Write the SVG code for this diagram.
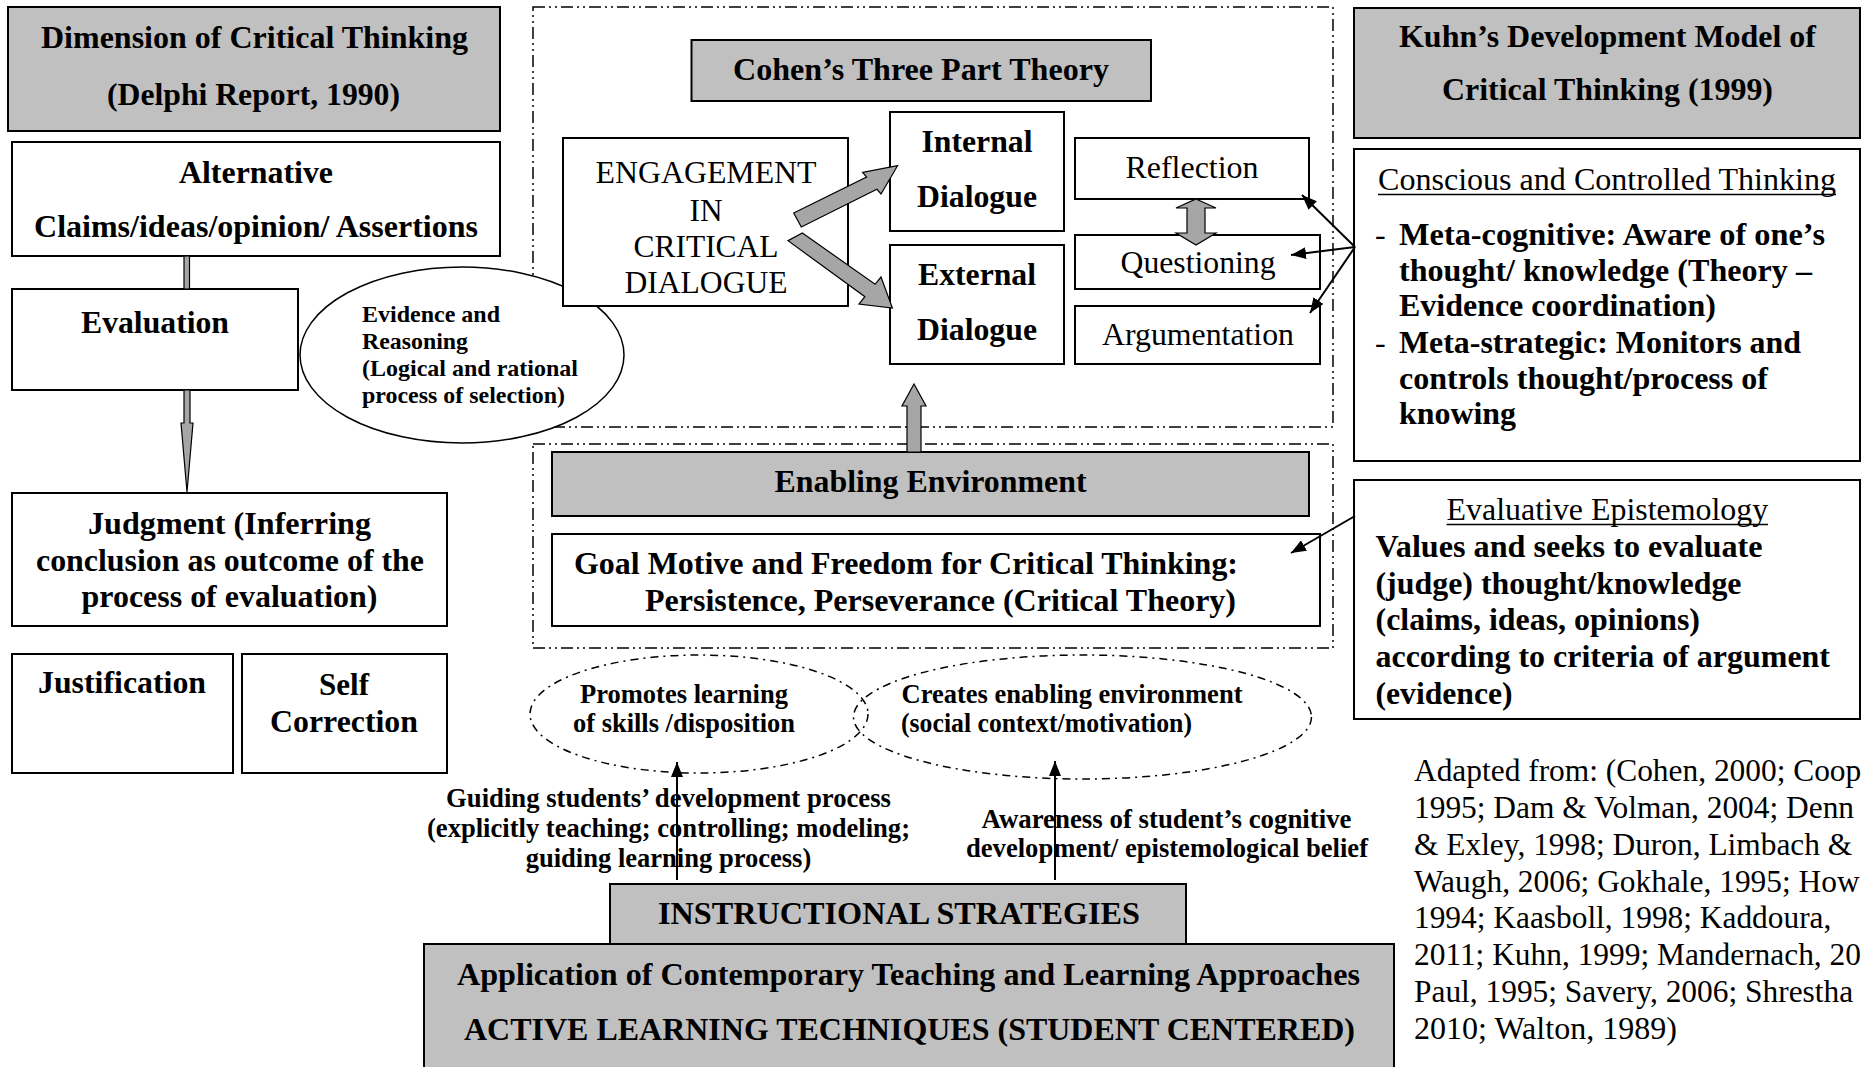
<svg xmlns="http://www.w3.org/2000/svg" width="1864" height="1067" viewBox="0 0 1864 1067" font-family="Liberation Serif">
<style>
text{font-family:"Liberation Serif","Times New Roman",serif;fill:#000}
.b{font-weight:bold;font-size:32px}
.r{font-weight:normal;font-size:32px}
.s{font-weight:bold;font-size:26.5px}
.e{font-weight:bold;font-size:24px}
.n{font-weight:normal;font-size:31.4px}
.m{text-anchor:middle}
.box{fill:#fff;stroke:#000;stroke-width:2}
.hd{fill:#c0c0c0;stroke:#000;stroke-width:2}
.dd{fill:none;stroke:#000;stroke-width:1.5;stroke-dasharray:12 4 2 4 2 4}
.de{fill:none;stroke:#000;stroke-width:1.5;stroke-dasharray:8 5 2 5}
.blk{fill:#a6a6a6;stroke:#000;stroke-width:1.2;stroke-linejoin:miter}
.ln{fill:none;stroke:#000;stroke-width:2;marker-end:url(#ah)}
.ul{stroke:#000;stroke-width:1.5}
</style>
<defs>
<marker id="ah" markerUnits="userSpaceOnUse" viewBox="0 0 16 12" markerWidth="16" markerHeight="12" refX="15" refY="6" orient="auto"><path d="M0,0 L15,6 L0,12 z" fill="#000"/></marker>
</defs>
<rect width="1864" height="1067" fill="#fff"/>

<g id="cohen-container"><rect class="dd" x="533" y="7" width="800" height="420"/></g>
<g id="enabling-container"><rect class="dd" x="533" y="444" width="800" height="204"/></g>

<g id="dimension">
<rect class="hd" x="8" y="7" width="492" height="124"/>
<text class="b m" x="254.5" y="48" textLength="427" lengthAdjust="spacingAndGlyphs">Dimension of Critical Thinking</text>
<text class="b m" x="253.5" y="105" textLength="293" lengthAdjust="spacingAndGlyphs">(Delphi Report, 1990)</text>
</g>
<g id="alternative">
<rect class="box" x="12" y="142" width="488" height="114"/>
<text class="b m" x="256" y="183" textLength="154" lengthAdjust="spacingAndGlyphs">Alternative</text>
<text class="b m" x="256" y="237" textLength="444" lengthAdjust="spacingAndGlyphs">Claims/ideas/opinion/ Assertions</text>
</g>
<g id="evaluation">
<rect class="box" x="12" y="289" width="286" height="101"/>
<text class="b m" x="155" y="333" textLength="148" lengthAdjust="spacingAndGlyphs">Evaluation</text>
</g>
<g id="evidence">
<ellipse cx="462" cy="355" rx="162" ry="88" fill="#fff" stroke="#000" stroke-width="1.5"/>
<text class="e" x="362" y="322" textLength="138" lengthAdjust="spacingAndGlyphs">Evidence and</text>
<text class="e" x="362" y="349" textLength="106" lengthAdjust="spacingAndGlyphs">Reasoning</text>
<text class="e" x="362" y="376" textLength="216" lengthAdjust="spacingAndGlyphs">(Logical and rational</text>
<text class="e" x="362" y="403" textLength="203" lengthAdjust="spacingAndGlyphs">process of selection)</text>
</g>
<g id="judgment">
<rect class="box" x="12" y="493" width="435" height="133"/>
<text class="b m" x="229.5" y="534" textLength="283" lengthAdjust="spacingAndGlyphs">Judgment (Inferring</text>
<text class="b m" x="230" y="571" textLength="388" lengthAdjust="spacingAndGlyphs">conclusion as outcome of the</text>
<text class="b m" x="229.5" y="607" textLength="296" lengthAdjust="spacingAndGlyphs">process of evaluation)</text>
</g>
<g id="justification">
<rect class="box" x="12" y="654" width="221" height="119"/>
<text class="b m" x="122" y="693" textLength="168" lengthAdjust="spacingAndGlyphs">Justification</text>
</g>
<g id="self-correction">
<rect class="box" x="242" y="654" width="205" height="119"/>
<text class="b m" x="344" y="695" textLength="50" lengthAdjust="spacingAndGlyphs">Self</text>
<text class="b m" x="344" y="732" textLength="148" lengthAdjust="spacingAndGlyphs">Correction</text>
</g>

<g id="cohen-title">
<rect class="hd" x="691.5" y="40" width="459.5" height="61"/>
<text class="b m" x="921" y="80" textLength="376" lengthAdjust="spacingAndGlyphs">Cohen’s Three Part Theory</text>
</g>
<g id="engagement">
<rect class="box" x="563" y="138" width="285" height="168"/>
<text class="r m" x="706" y="183" textLength="221" lengthAdjust="spacingAndGlyphs">ENGAGEMENT</text>
<text class="r m" x="706" y="221" textLength="33" lengthAdjust="spacingAndGlyphs">IN</text>
<text class="r m" x="706" y="257" textLength="145" lengthAdjust="spacingAndGlyphs">CRITICAL</text>
<text class="r m" x="706" y="293" textLength="163" lengthAdjust="spacingAndGlyphs">DIALOGUE</text>
</g>
<g id="internal">
<rect class="box" x="890" y="112" width="174" height="119"/>
<text class="b m" x="977" y="152" textLength="111" lengthAdjust="spacingAndGlyphs">Internal</text>
<text class="b m" x="977" y="207" textLength="120" lengthAdjust="spacingAndGlyphs">Dialogue</text>
</g>
<g id="external">
<rect class="box" x="890" y="245" width="174" height="119"/>
<text class="b m" x="977" y="285" textLength="118" lengthAdjust="spacingAndGlyphs">External</text>
<text class="b m" x="977" y="340" textLength="120" lengthAdjust="spacingAndGlyphs">Dialogue</text>
</g>
<g id="reflection">
<rect class="box" x="1075" y="138" width="234" height="61"/>
<text class="r m" x="1192" y="178" textLength="133" lengthAdjust="spacingAndGlyphs">Reflection</text>
</g>
<g id="questioning">
<rect class="box" x="1075" y="235" width="245" height="54"/>
<text class="r m" x="1198" y="273" textLength="155" lengthAdjust="spacingAndGlyphs">Questioning</text>
</g>
<g id="argumentation">
<rect class="box" x="1075" y="306" width="245" height="58"/>
<text class="r m" x="1198" y="345" textLength="192" lengthAdjust="spacingAndGlyphs">Argumentation</text>
</g>

<g id="kuhn-title">
<rect class="hd" x="1354" y="8" width="506" height="130"/>
<text class="b m" x="1607.5" y="47" textLength="417" lengthAdjust="spacingAndGlyphs">Kuhn’s Development Model of</text>
<text class="b m" x="1607.5" y="100" textLength="331" lengthAdjust="spacingAndGlyphs">Critical Thinking (1999)</text>
</g>
<g id="conscious">
<rect class="box" x="1354" y="149" width="506" height="312"/>
<text class="r" x="1378" y="190" textLength="458" lengthAdjust="spacingAndGlyphs">Conscious and Controlled Thinking</text>
<line class="ul" x1="1378" y1="194.5" x2="1836" y2="194.5"/>
<text class="r" x="1375" y="245">-</text>
<text class="b" x="1399" y="245" textLength="426" lengthAdjust="spacingAndGlyphs">Meta-cognitive: Aware of one’s</text>
<text class="b" x="1399" y="281" textLength="413" lengthAdjust="spacingAndGlyphs">thought/ knowledge (Theory –</text>
<text class="b" x="1399" y="316" textLength="317" lengthAdjust="spacingAndGlyphs">Evidence coordination)</text>
<text class="r" x="1375" y="353">-</text>
<text class="b" x="1399" y="353" textLength="402" lengthAdjust="spacingAndGlyphs">Meta-strategic: Monitors and</text>
<text class="b" x="1399" y="389" textLength="369" lengthAdjust="spacingAndGlyphs">controls thought/process of</text>
<text class="b" x="1399" y="424" textLength="117" lengthAdjust="spacingAndGlyphs">knowing</text>
</g>
<g id="evaluative">
<rect class="box" x="1354" y="480" width="506" height="239"/>
<text class="r" x="1446.6" y="520" textLength="321.6" lengthAdjust="spacingAndGlyphs">Evaluative Epistemology</text>
<line class="ul" x1="1446.6" y1="524.5" x2="1768" y2="524.5"/>
<text class="b" x="1375.5" y="557" textLength="387" lengthAdjust="spacingAndGlyphs">Values and seeks to evaluate</text>
<text class="b" x="1375.5" y="593.5" textLength="366" lengthAdjust="spacingAndGlyphs">(judge) thought/knowledge</text>
<text class="b" x="1375.5" y="630" textLength="324.5" lengthAdjust="spacingAndGlyphs">(claims, ideas, opinions)</text>
<text class="b" x="1375.5" y="667" textLength="454.5" lengthAdjust="spacingAndGlyphs">according to criteria of argument</text>
<text class="b" x="1375.5" y="704" textLength="137" lengthAdjust="spacingAndGlyphs">(evidence)</text>
</g>

<g id="enabling-environment">
<rect class="hd" x="552" y="452" width="757" height="64"/>
<text class="b m" x="930.5" y="492" textLength="312" lengthAdjust="spacingAndGlyphs">Enabling Environment</text>
</g>
<g id="goal-motive">
<rect class="box" x="552" y="534" width="768" height="92"/>
<text class="b" x="574" y="574" textLength="664" lengthAdjust="spacingAndGlyphs">Goal Motive and Freedom for Critical Thinking:</text>
<text class="b" x="645" y="610.5" textLength="591" lengthAdjust="spacingAndGlyphs">Persistence, Perseverance (Critical Theory)</text>
</g>

<g id="promotes">
<ellipse class="de" cx="699" cy="714" rx="169" ry="59"/>
<text class="s m" x="684" y="703" textLength="208" lengthAdjust="spacingAndGlyphs">Promotes learning</text>
<text class="s m" x="684" y="732" textLength="222" lengthAdjust="spacingAndGlyphs">of skills /disposition</text>
</g>
<g id="creates">
<ellipse class="de" cx="1082.5" cy="717" rx="229" ry="62"/>
<text class="s" x="901.5" y="703" textLength="341" lengthAdjust="spacingAndGlyphs">Creates enabling environment</text>
<text class="s" x="901" y="732" textLength="291" lengthAdjust="spacingAndGlyphs">(social context/motivation)</text>
</g>

<g id="guiding-label">
<text class="s m" x="668.5" y="807" textLength="445" lengthAdjust="spacingAndGlyphs">Guiding students’ development process</text>
<text class="s m" x="668.5" y="837" textLength="483" lengthAdjust="spacingAndGlyphs">(explicitly teaching; controlling; modeling;</text>
<text class="s m" x="668.5" y="867" textLength="285.6" lengthAdjust="spacingAndGlyphs">guiding learning process)</text>
</g>
<g id="awareness-label">
<text class="s m" x="1166.5" y="828" textLength="370" lengthAdjust="spacingAndGlyphs">Awareness of student’s cognitive</text>
<text class="s m" x="1167" y="857" textLength="402" lengthAdjust="spacingAndGlyphs">development/ epistemological belief</text>
</g>

<g id="instructional">
<rect class="hd" x="610" y="884" width="576" height="60"/>
<text class="b m" x="899" y="924" textLength="482" lengthAdjust="spacingAndGlyphs">INSTRUCTIONAL STRATEGIES</text>
</g>
<g id="application">
<rect class="hd" x="424" y="944" width="970" height="130"/>
<text class="b m" x="908.5" y="985" textLength="903" lengthAdjust="spacingAndGlyphs">Application of Contemporary Teaching and Learning Approaches</text>
<text class="b m" x="909.5" y="1040" textLength="891" lengthAdjust="spacingAndGlyphs">ACTIVE LEARNING TECHNIQUES (STUDENT CENTERED)</text>
</g>

<g id="source-note">
<text class="n" x="1414" y="781">Adapted from: (Cohen, 2000; Coop</text>
<text class="n" x="1414" y="818">1995; Dam &amp; Volman, 2004; Denn</text>
<text class="n" x="1414" y="855">&amp; Exley, 1998; Duron, Limbach &amp;</text>
<text class="n" x="1414" y="892">Waugh, 2006; Gokhale, 1995; How</text>
<text class="n" x="1414" y="928" textLength="417.4" lengthAdjust="spacingAndGlyphs">1994; Kaasboll, 1998; Kaddoura,</text>
<text class="n" x="1414" y="965">2011; Kuhn, 1999; Mandernach, 20</text>
<text class="n" x="1414" y="1002">Paul, 1995; Savery, 2006; Shrestha</text>
<text class="n" x="1414" y="1039" textLength="263" lengthAdjust="spacingAndGlyphs">2010; Walton, 1989)</text>
</g>

<g id="connectors">
<rect class="blk" x="184" y="256" width="5.5" height="33"/>
<polygon class="blk" points="184,390 190,390 190,423 193,423 187,492 181,423 184,423"/>
<polygon class="blk" points="793.7,213 866.6,177.1 862.6,172.3 897.6,165.7 881,194 876.9,189.3 801.3,227"/>
<polygon class="blk" points="802.4,233 875.1,284.3 881,277 892.4,308 859,304 864.9,296.7 788,240.7"/>
<polygon class="blk" points="1196,199 1216,208 1205,208 1205,233 1216,233 1196,245 1176,233 1187,233 1187,208 1176,208"/>
<polygon class="blk" points="914,384 926,406 921,406 921,452 907,452 907,406 902,406"/>
<path class="ln" d="M1355,247 L1302,195"/>
<path class="ln" d="M1355,247 L1291,255"/>
<path class="ln" d="M1355,247 L1310,313"/>
<path class="ln" d="M1355,516 L1291,553"/>
<path class="ln" d="M677,880 L677,762"/>
<path class="ln" d="M1055,880 L1055,761"/>
</g>
</svg>
